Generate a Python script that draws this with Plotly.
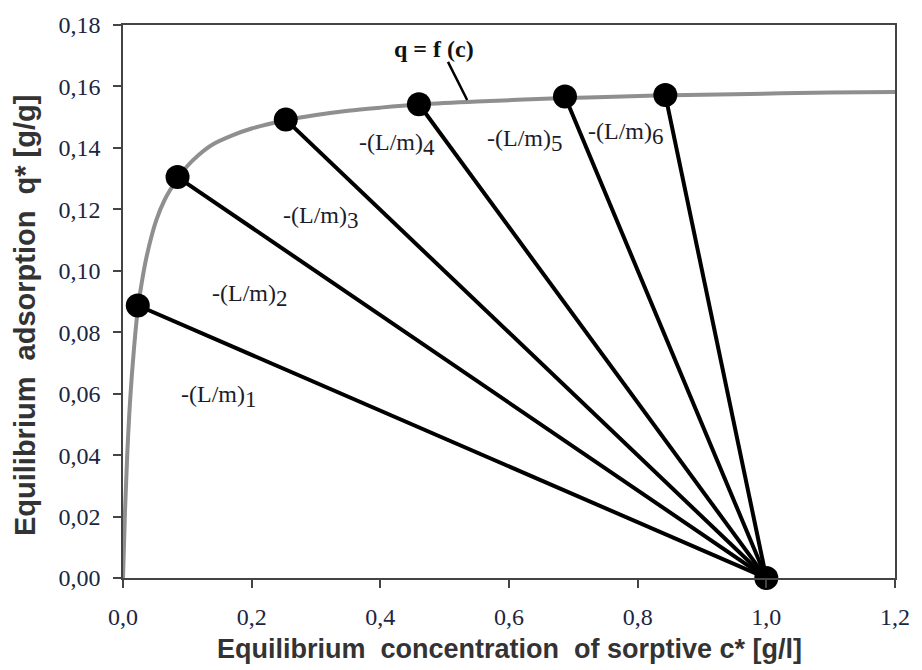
import plotly.graph_objects as go

# Isotherm curve q = f(c)
curve_c = [0.0, 0.003, 0.0068, 0.0114, 0.017, 0.023, 0.030, 0.037, 0.0515, 0.065,
           0.0848, 0.100, 0.118, 0.140, 0.169, 0.200, 0.253, 0.300, 0.350, 0.400,
           0.460, 0.550, 0.687, 0.750, 0.843, 0.950, 1.100, 1.200]
curve_q = [0.0, 0.0212, 0.0412, 0.0589, 0.0745, 0.0875, 0.0972, 0.1049, 0.1163, 0.1232,
           0.1300, 0.1341, 0.1378, 0.1412, 0.1440, 0.1463, 0.1490, 0.1507, 0.1521, 0.1531,
           0.1541, 0.1551, 0.1562, 0.1566, 0.1571, 0.1575, 0.1580, 0.1582]

# Equilibrium points on the isotherm
point_c = [0.023, 0.0848, 0.253, 0.460, 0.687, 0.843]
point_q = [0.0887, 0.1305, 0.1492, 0.1542, 0.1567, 0.1572]

# Common starting point (initial concentration)
start_c = 1.0
start_q = 0.0

# Operating line labels (left edge position)
label_idx = ["1", "2", "3", "4", "5", "6"]
label_c = [0.0876, 0.136, 0.246, 0.364, 0.563, 0.719]
label_q = [0.0590, 0.0920, 0.1175, 0.1412, 0.1423, 0.1447]

x_ticks = [0.0, 0.2, 0.4, 0.6, 0.8, 1.0, 1.2]
y_ticks = [0.00, 0.02, 0.04, 0.06, 0.08, 0.10, 0.12, 0.14, 0.16, 0.18]

fig = go.Figure()

fig.add_trace(go.Scatter(x=curve_c, y=curve_q, mode="lines",
                         line=dict(color="#8f8f8f", width=4, shape="spline", smoothing=1.0),
                         hoverinfo="skip", showlegend=False))

for c, q in zip(point_c, point_q):
    fig.add_trace(go.Scatter(x=[c, start_c], y=[q, start_q], mode="lines",
                             line=dict(color="black", width=4),
                             showlegend=False, hoverinfo="skip"))

fig.add_trace(go.Scatter(x=point_c + [start_c], y=point_q + [start_q], mode="markers",
                         marker=dict(color="black", size=24),
                         cliponaxis=False, showlegend=False))

label_font = dict(family="Liberation Serif", size=24, color="#1b1b2a")
for i, c, q in zip(label_idx, label_c, label_q):
    fig.add_annotation(x=c, y=q, xanchor="left", yanchor="middle",
                       text="-(L/m)<sub><span style='font-size:23px'>" + i + "</span></sub>",
                       showarrow=False, font=label_font)

# q = f(c) label with pointer line
fig.add_annotation(x=0.535, y=0.1556, ax=0.504, ay=0.1685, axref="x", ayref="y",
                   showarrow=True, arrowhead=0, arrowwidth=2.5, arrowcolor="black",
                   text="")
fig.add_annotation(x=0.483, y=0.1722, text="<b>q = f (c)</b>", showarrow=False,
                   font=dict(family="Liberation Serif", size=24, color="#111111"))

# Axis titles
fig.add_annotation(xref="paper", yref="paper", x=0.5, y=-0.128, yanchor="middle",
                   text="<b>Equilibrium  concentration  of sorptive c* [g/l]</b>",
                   showarrow=False,
                   font=dict(family="Liberation Sans", size=27, color="#333333"))
fig.add_annotation(xref="paper", yref="paper", x=-0.126, y=0.475, textangle=-90,
                   xanchor="center", yanchor="middle",
                   text="<b>Equilibrium  adsorption  q* [g/g]</b>",
                   showarrow=False,
                   font=dict(family="Liberation Sans", size=29, color="#333333"))

tick_font = dict(family="Liberation Serif", size=24, color="#1c2540")
fig.update_xaxes(range=[0, 1.2], tickvals=x_ticks, tickformat=".1f",
                 showgrid=False, zeroline=False, showline=True, linecolor="#444444",
                 linewidth=1.5, mirror=True, ticks="outside", ticklen=8,
                 tickcolor="#444444", tickwidth=1.5, tickfont=tick_font,
                 ticklabelstandoff=8)
fig.update_yaxes(range=[0, 0.18], tickvals=y_ticks, tickformat=".2f",
                 showgrid=False, zeroline=False, showline=True, linecolor="#444444",
                 linewidth=1.5, mirror=True, ticks="outside", ticklen=8,
                 tickcolor="#444444", tickwidth=1.5, tickfont=tick_font,
                 ticklabelstandoff=8)

fig.update_layout(width=922, height=670, margin=dict(l=123, r=20, t=17, b=92),
                  plot_bgcolor="white", paper_bgcolor="white", separators=", ",
                  showlegend=False)

fig.write_html("out.html")
